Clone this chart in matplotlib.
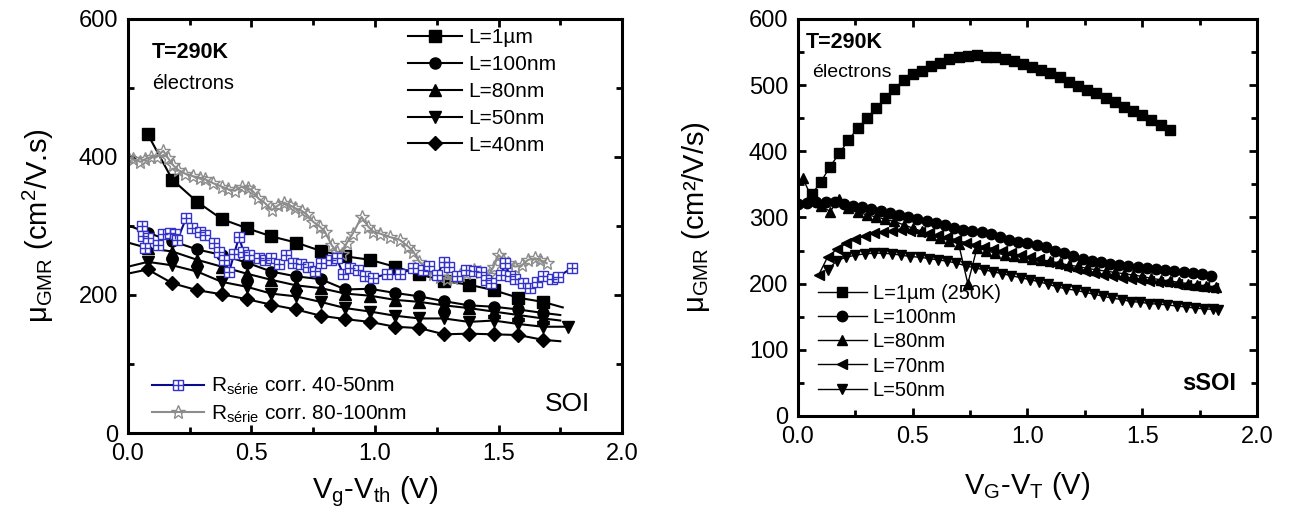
import matplotlib
matplotlib.use("Agg")
import matplotlib.pyplot as plt
from matplotlib.legend_handler import HandlerTuple
from matplotlib.ticker import MultipleLocator

plt.rcParams['font.family'] = ['Liberation Sans', 'DejaVu Sans']
plt.rcParams['mathtext.default'] = 'regular'

# ---- left panel (SOI) ----
soi_x_1um = [0.08, 0.18, 0.28, 0.38, 0.48, 0.58, 0.68, 0.78, 0.88, 0.98, 1.08, 1.18, 1.28, 1.38, 1.48, 1.58, 1.68, 1.76]
soi_y_1um = [433, 367, 335, 310, 297, 285, 276, 264, 256, 251, 241, 230, 220, 215, 207, 196, 190, 182]
soi_x = [0.0, 0.08, 0.18, 0.28, 0.38, 0.48, 0.58, 0.68, 0.78, 0.88, 0.98, 1.08, 1.18, 1.28, 1.38, 1.48, 1.58, 1.68, 1.75]
soi_y_100 = [301, 290, 278, 266, 258, 247, 234, 227, 223, 208, 209, 203, 198, 191, 185, 183, 179, 174, 171]
soi_y_80 = [276, 268, 263, 251, 241, 231, 222, 214, 210, 202, 199, 193, 190, 185, 181, 176, 171, 166, 163]
soi_x_50 = [0.0, 0.08, 0.18, 0.28, 0.38, 0.48, 0.58, 0.68, 0.78, 0.88, 0.98, 1.08, 1.18, 1.28, 1.38, 1.48, 1.58, 1.68, 1.78]
soi_y_50 = [241, 248, 243, 234, 219, 212, 202, 198, 190, 181, 176, 170, 166, 166, 161, 163, 158, 154, 154]
soi_y_40 = [231, 237, 217, 207, 201, 194, 186, 179, 170, 165, 161, 154, 152, 143, 144, 143, 142, 135, 133]

corr4050_x = [0.055, 0.06, 0.07, 0.08, 0.12, 0.14, 0.17, 0.19, 0.20, 0.235, 0.258, 0.29, 0.31, 0.35, 0.37, 0.39,
              0.41, 0.43, 0.45, 0.467, 0.49, 0.53, 0.555, 0.58, 0.61, 0.64, 0.67, 0.70, 0.73, 0.757, 0.78, 0.82,
              0.845, 0.87, 0.90, 0.93, 0.96, 0.99, 1.047, 1.10, 1.155, 1.196, 1.22, 1.25, 1.28, 1.30, 1.33, 1.37,
              1.40, 1.43, 1.45, 1.47, 1.51, 1.526, 1.547, 1.567, 1.60, 1.628, 1.655, 1.68, 1.715, 1.74, 1.796]
corr4050_y = [300, 285, 268, 283, 272, 289, 290, 288, 280, 311, 297, 292, 287, 275, 263, 251,
              234, 260, 284, 263, 258, 254, 251, 253, 245, 258, 246, 245, 241, 235, 246, 251,
              253, 231, 239, 236, 227, 225, 230, 230, 239, 236, 242, 229, 248, 241, 227, 236,
              235, 234, 222, 217, 229, 246, 227, 223, 217, 210, 219, 227, 223, 226, 239]

corr80100_x = [0.0, 0.02, 0.05, 0.07, 0.095, 0.116, 0.143, 0.163, 0.183, 0.204, 0.23, 0.264, 0.29, 0.31, 0.345,
               0.38, 0.406, 0.433, 0.46, 0.487, 0.507, 0.528, 0.555, 0.582, 0.608, 0.63, 0.656, 0.676, 0.703,
               0.723, 0.75, 0.777, 0.797, 0.825, 0.845, 0.865, 0.885, 0.91, 0.946, 0.973, 0.993, 1.02, 1.06,
               1.10, 1.135, 1.155, 1.18, 1.21, 1.236, 1.263, 1.29, 1.317, 1.344, 1.37, 1.40, 1.425, 1.46, 1.48,
               1.50, 1.52, 1.54, 1.567, 1.594, 1.62, 1.648, 1.668, 1.695]
corr80100_y = [400, 397, 393, 397, 400, 400, 409, 398, 388, 381, 376, 372, 369, 368, 362,
               357, 353, 351, 357, 355, 350, 340, 333, 323, 330, 334, 330, 326, 322,
               317, 306, 299, 292, 272, 263, 260, 275, 289, 313, 299, 292, 289, 284,
               280, 270, 263, 248, 239, 231, 226, 223, 224, 229, 232, 236, 234, 229, 241,
               258, 251, 246, 241, 243, 251, 253, 251, 246]

# ---- right panel (sSOI) ----
ssoi_x_1um = [0.06, 0.10, 0.14, 0.18, 0.22, 0.26, 0.30, 0.34, 0.38, 0.42, 0.46, 0.50, 0.54, 0.58, 0.62, 0.66,
              0.70, 0.74, 0.78, 0.82, 0.86, 0.90, 0.94, 0.98, 1.02, 1.06, 1.10, 1.14, 1.18, 1.22, 1.26, 1.30,
              1.34, 1.38, 1.42, 1.46, 1.50, 1.54, 1.58, 1.62]
ssoi_y_1um = [335, 354, 377, 397, 417, 435, 450, 465, 480, 494, 508, 517, 522, 529, 534, 539,
              542, 544, 545, 543, 542, 539, 536, 532, 528, 523, 518, 512, 505, 499, 493, 488,
              480, 474, 467, 461, 455, 447, 440, 432]
ssoi_x_100 = [0.00, 0.04, 0.08, 0.12, 0.16, 0.20, 0.24, 0.28, 0.32, 0.36, 0.40, 0.44, 0.48, 0.52, 0.56, 0.60,
              0.64, 0.68, 0.72, 0.76, 0.80, 0.84, 0.88, 0.92, 0.96, 1.00, 1.04, 1.08, 1.12, 1.16, 1.20, 1.24,
              1.28, 1.32, 1.36, 1.40, 1.44, 1.48, 1.52, 1.56, 1.60, 1.64, 1.68, 1.72, 1.76, 1.80]
ssoi_y_100 = [320, 322, 323, 324, 324, 321, 318, 316, 313, 310, 307, 304, 301, 298, 295, 291,
              288, 284, 281, 279, 278, 275, 270, 266, 263, 261, 259, 255, 250, 246, 242, 238,
              235, 232, 230, 228, 226, 225, 223, 222, 221, 219, 217, 216, 214, 212]
ssoi_x_80 = [0.02, 0.06, 0.10, 0.14, 0.18, 0.22, 0.26, 0.30, 0.34, 0.38, 0.42, 0.46, 0.50, 0.54, 0.58, 0.62,
             0.66, 0.70, 0.74, 0.78, 0.82, 0.86, 0.90, 0.94, 0.98, 1.02, 1.06, 1.10, 1.14, 1.18, 1.22, 1.26,
             1.30, 1.34, 1.38, 1.42, 1.46, 1.50, 1.54, 1.58, 1.62, 1.66, 1.70, 1.74, 1.78, 1.82]
ssoi_y_80 = [360, 330, 318, 309, 328, 314, 308, 304, 301, 297, 294, 289, 284, 279, 273, 269,
             265, 260, 200, 254, 250, 246, 244, 242, 240, 238, 236, 234, 231, 228, 226, 223,
             221, 219, 217, 215, 213, 211, 208, 206, 204, 202, 200, 198, 197, 195]
ssoi_x_70 = [0.09, 0.13, 0.17, 0.21, 0.25, 0.29, 0.33, 0.37, 0.41, 0.45, 0.49, 0.53, 0.57, 0.61, 0.65, 0.69,
             0.73, 0.77, 0.81, 0.85, 0.89, 0.93, 0.97, 1.01, 1.05, 1.09, 1.13, 1.17, 1.21, 1.25, 1.29, 1.33,
             1.37, 1.41, 1.45, 1.49, 1.53, 1.57, 1.61, 1.65, 1.69, 1.73, 1.77, 1.81]
ssoi_y_70 = [213, 241, 252, 261, 267, 272, 276, 278, 280, 281, 280, 278, 276, 273, 270, 266,
             262, 259, 256, 253, 249, 246, 243, 240, 237, 233, 229, 225, 222, 219, 216, 213,
             211, 209, 207, 205, 204, 203, 202, 200, 198, 197, 195, 193]
ssoi_x_50 = [0.13, 0.17, 0.21, 0.25, 0.29, 0.33, 0.37, 0.41, 0.45, 0.49, 0.53, 0.57, 0.61, 0.65, 0.69, 0.73,
             0.77, 0.81, 0.85, 0.89, 0.93, 0.97, 1.01, 1.05, 1.09, 1.13, 1.17, 1.21, 1.25, 1.29, 1.33, 1.37,
             1.41, 1.45, 1.49, 1.53, 1.57, 1.61, 1.65, 1.69, 1.73, 1.77, 1.81, 1.83]
ssoi_y_50 = [221, 235, 240, 243, 245, 246, 246, 245, 243, 241, 240, 238, 236, 234, 231, 227,
             224, 221, 218, 215, 212, 209, 206, 203, 199, 195, 192, 190, 187, 184, 181, 178,
             176, 173, 172, 170, 169, 168, 166, 165, 163, 162, 161, 160]


def style_axes(ax, ymajor, yminor):
    ax.set_xlim(0, 2.0)
    ax.set_ylim(0, 600)
    ax.xaxis.set_major_locator(MultipleLocator(0.5))
    ax.xaxis.set_minor_locator(MultipleLocator(0.25))
    ax.yaxis.set_major_locator(MultipleLocator(ymajor))
    ax.yaxis.set_minor_locator(MultipleLocator(yminor))
    ax.xaxis.set_major_formatter(matplotlib.ticker.FormatStrFormatter('%.1f'))
    ax.tick_params(which='both', direction='in', top=True, right=True, width=2, labelsize=17)
    ax.tick_params(which='major', length=6, pad=7)
    ax.tick_params(which='minor', length=4)
    for s in ax.spines.values():
        s.set_linewidth(2.2)


fig = plt.figure(figsize=(12.9, 5.2), dpi=100)
ax1 = fig.add_axes([0.0992, 0.1673, 0.3830, 0.7962])
ax2 = fig.add_axes([0.6186, 0.2000, 0.3558, 0.7635])

# left
ms = 8
l1, = ax1.plot(soi_x_1um, soi_y_1um, 'k-', marker='s', ms=ms, lw=1.5, markevery=slice(0, -1), label='L=1µm')
l2, = ax1.plot(soi_x, soi_y_100, 'k-', marker='o', ms=ms, lw=1.5, markevery=slice(1, -1), label='L=100nm')
l3, = ax1.plot(soi_x, soi_y_80, 'k-', marker='^', ms=ms, lw=1.5, markevery=slice(1, -1), label='L=80nm')
l4, = ax1.plot(soi_x_50, soi_y_50, 'k-', marker='v', ms=ms, lw=1.5, markevery=slice(1, None), label='L=50nm')
l5, = ax1.plot(soi_x, soi_y_40, 'k-', marker='D', ms=ms - 1, lw=1.5, markevery=slice(1, -1), label='L=40nm')

g1, = ax1.plot(corr80100_x, corr80100_y, '-', color='#8c8c8c', lw=1.5, marker='*', ms=10,
               mfc='none', mec='#8c8c8c', mew=1.0)
b0, = ax1.plot(corr4050_x, corr4050_y, '-', color='#0a0a8c', lw=1.5)
b1, = ax1.plot(corr4050_x, corr4050_y, ls='none', marker='s', ms=7.5, mfc='white', mec='#3333cc', mew=1.0)
b2, = ax1.plot(corr4050_x, corr4050_y, ls='none', marker='+', ms=7.5, mec='#3333cc', mew=1.0)

leg1 = ax1.legend(handles=[l1, l2, l3, l4, l5], loc='upper left', bbox_to_anchor=(0.567, 0.978),
                  frameon=False, fontsize=15, numpoints=1, handlelength=2.6, handletextpad=0.3,
                  labelspacing=0.38, borderpad=0, borderaxespad=0)
ax1.add_artist(leg1)
ax1.legend([(b0, b1, b2), g1], ['R$_{série}$ corr. 40-50nm', 'R$_{série}$ corr. 80-100nm'],
           handler_map={tuple: HandlerTuple(ndivide=1, pad=0)}, loc='lower left',
           bbox_to_anchor=(0.049, 0.02), frameon=False, fontsize=15, numpoints=1,
           handlelength=2.5, handletextpad=0.3, labelspacing=0.3, borderpad=0, borderaxespad=0)

ax1.text(0.049, 0.92, 'T=290K', transform=ax1.transAxes, fontsize=15.5, fontweight='bold', va='center')
ax1.text(0.049, 0.845, 'électrons', transform=ax1.transAxes, fontsize=14.5, va='center')
ax1.text(0.935, 0.07, 'SOI', transform=ax1.transAxes, fontsize=19, ha='right', va='center')

style_axes(ax1, 200, 100)
ax1.set_xlabel('V$_g$-V$_{th}$ (V)', fontsize=21)
ax1.set_ylabel('$μ_{GMR}$ (cm$^2$/V.s)', fontsize=21)
ax1.xaxis.set_label_coords(0.5, -0.10)
ax1.yaxis.set_label_coords(-0.145, 0.5)

# right
ms2 = 7.5
r1, = ax2.plot(ssoi_x_1um, ssoi_y_1um, 'k-', marker='s', ms=ms2, lw=1, label='L=1µm (250K)')
r2, = ax2.plot(ssoi_x_100, ssoi_y_100, 'k-', marker='o', ms=ms2, lw=1, label='L=100nm')
r3, = ax2.plot(ssoi_x_80, ssoi_y_80, 'k-', marker='^', ms=ms2, lw=1, label='L=80nm')
r4, = ax2.plot(ssoi_x_70, ssoi_y_70, 'k-', marker='<', ms=ms2, lw=1, label='L=70nm')
r5, = ax2.plot(ssoi_x_50, ssoi_y_50, 'k-', marker='v', ms=ms2, lw=1, label='L=50nm')

ax2.legend(handles=[r1, r2, r3, r4, r5], loc='upper left', bbox_to_anchor=(0.044, 0.333),
           frameon=False, fontsize=14.5, numpoints=1, handlelength=2.4, handletextpad=0.3,
           labelspacing=0.26, borderpad=0, borderaxespad=0)

ax2.text(0.017, 0.94, 'T=290K', transform=ax2.transAxes, fontsize=15.5, fontweight='bold', va='center')
ax2.text(0.03, 0.866, 'électrons', transform=ax2.transAxes, fontsize=14, va='center')
ax2.text(0.954, 0.083, 'sSOI', transform=ax2.transAxes, fontsize=17, fontweight='bold', ha='right', va='center')

style_axes(ax2, 100, 50)
ax2.set_xlabel('V$_G$-V$_T$ (V)', fontsize=21)
ax2.set_ylabel('$μ_{GMR}$ (cm²/V/s)', fontsize=21)
ax2.xaxis.set_label_coords(0.5, -0.136)
ax2.yaxis.set_label_coords(-0.187, 0.5)

fig.savefig('out.png', dpi=100)
